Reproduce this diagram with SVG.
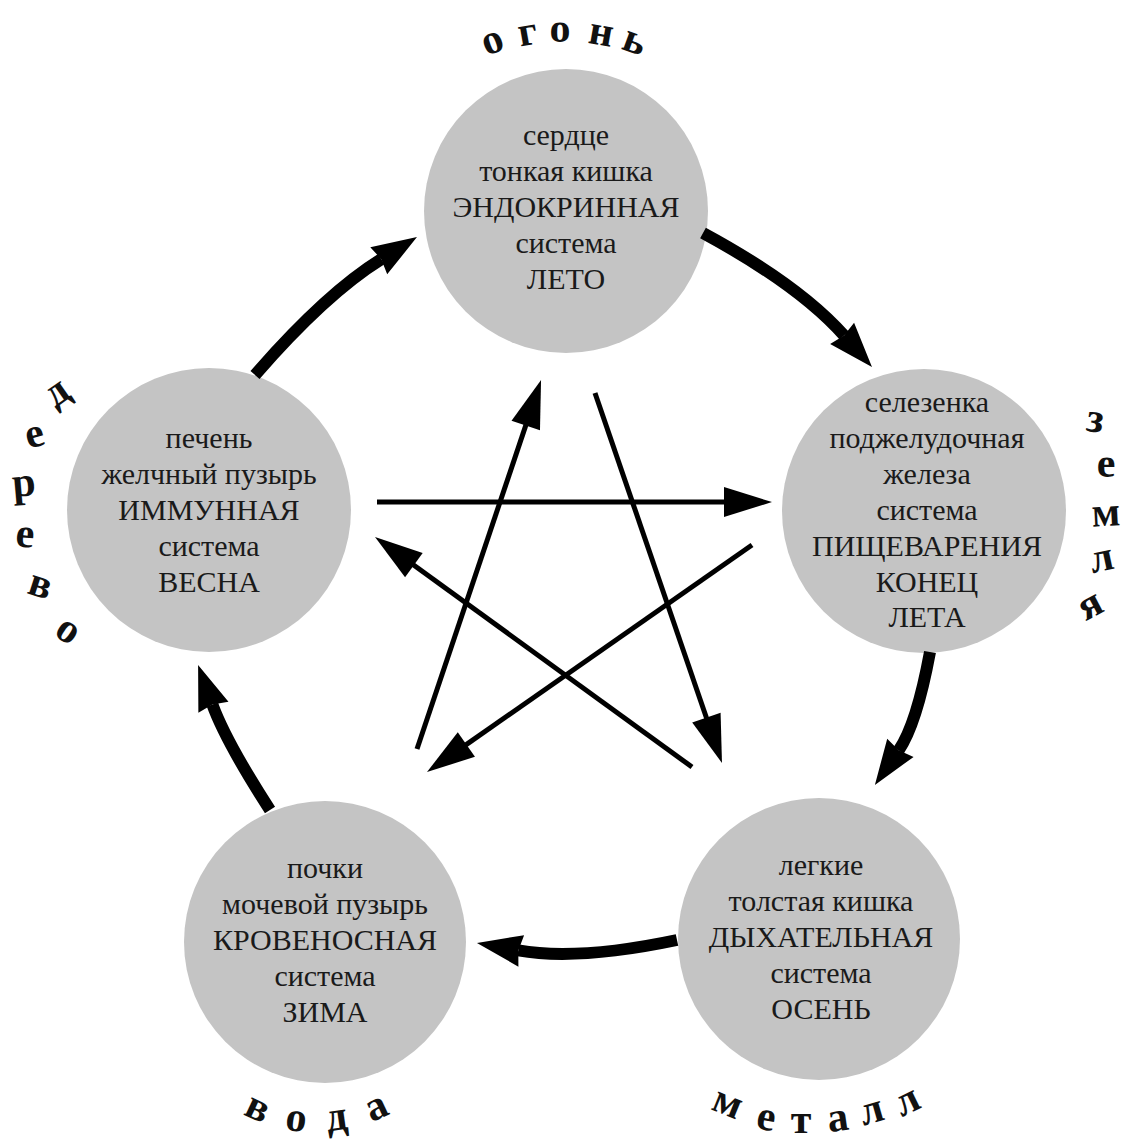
<svg xmlns="http://www.w3.org/2000/svg" width="1125" height="1142" viewBox="0 0 1125 1142">
<style>
.c{fill:#c4c4c4}
.t{font-family:"Liberation Serif","Times New Roman",serif;font-size:30px;fill:#1a1a1a;text-anchor:middle}
.l{font-family:"Liberation Serif","Times New Roman",serif;font-size:42px;font-weight:bold;fill:#111;text-anchor:middle}
.thick{fill:none;stroke:#000;stroke-width:12;marker-end:url(#hb)}
.thin{fill:none;stroke:#000;stroke-width:5;marker-end:url(#hs)}
</style>
<defs>
<marker id="hb" markerUnits="userSpaceOnUse" markerWidth="60" markerHeight="40" viewBox="0 -20 60 40" refX="3" refY="0" orient="auto" overflow="visible">
<path d="M0,-16 L45,0 L0,16 L3,0 z" fill="#000"/>
</marker>
<marker id="hs" markerUnits="userSpaceOnUse" markerWidth="60" markerHeight="40" viewBox="0 -20 60 40" refX="8" refY="0" orient="auto" overflow="visible">
<path d="M0,-15 L48,0 L0,15 z" fill="#000"/>
</marker>
</defs>
<rect width="1125" height="1142" fill="#fff"/>

<g id="node-fire">
<circle class="c" cx="566" cy="211" r="142"/>
<text class="t" x="566" y="145">сердце</text>
<text class="t" x="566" y="181">тонкая кишка</text>
<text class="t" x="566" y="217">ЭНДОКРИННАЯ</text>
<text class="t" x="566" y="253">система</text>
<text class="t" x="566" y="289">ЛЕТО</text>
</g>
<g id="node-wood">
<circle class="c" cx="209" cy="510" r="142"/>
<text class="t" x="209" y="448">печень</text>
<text class="t" x="209" y="484">желчный пузырь</text>
<text class="t" x="209" y="520">ИММУННАЯ</text>
<text class="t" x="209" y="556">система</text>
<text class="t" x="209" y="592">ВЕСНА</text>
</g>
<g id="node-earth">
<circle class="c" cx="924" cy="511" r="142"/>
<text class="t" x="927" y="412">селезенка</text>
<text class="t" x="927" y="448">поджелудочная</text>
<text class="t" x="927" y="484">железа</text>
<text class="t" x="927" y="520">система</text>
<text class="t" x="927" y="556">ПИЩЕВАРЕНИЯ</text>
<text class="t" x="927" y="592">КОНЕЦ</text>
<text class="t" x="927" y="627">ЛЕТА</text>
</g>
<g id="node-water">
<circle class="c" cx="325" cy="942" r="141"/>
<text class="t" x="325" y="878">почки</text>
<text class="t" x="325" y="914">мочевой пузырь</text>
<text class="t" x="325" y="950">КРОВЕНОСНАЯ</text>
<text class="t" x="325" y="986">система</text>
<text class="t" x="325" y="1022">ЗИМА</text>
</g>
<g id="node-metal">
<circle class="c" cx="819" cy="939" r="141"/>
<text class="t" x="821" y="875">легкие</text>
<text class="t" x="821" y="911">толстая кишка</text>
<text class="t" x="821" y="947">ДЫХАТЕЛЬНАЯ</text>
<text class="t" x="821" y="983">система</text>
<text class="t" x="821" y="1019">ОСЕНЬ</text>
</g>

<g id="connectors">
<path class="thick" d="M255,375 Q325.6,293.8 381.3,259.2"/>
<path class="thick" d="M703,233 Q799.3,285.1 844.1,335.6"/>
<path class="thick" d="M930,652 Q916.6,724.3 898.7,750.3"/>
<path class="thick" d="M677,940 Q577,961 518.3,950.4"/>
<path class="thick" d="M270,810 Q225.8,741.5 212.4,704.5"/>
<path class="thin" d="M377,502 L732,502"/>
<path class="thin" d="M752,545 L459.8,749.1"/>
<path class="thin" d="M692,767 L407.4,560.5"/>
<path class="thin" d="M417,749 L528.3,417.9"/>
<path class="thin" d="M595,393 L709,725.2"/>
</g>

<g id="labels">
<text class="l" transform="translate(493,43) rotate(-20)" y="10">о</text>
<text class="l" transform="translate(528,35) rotate(-10)" y="10">г</text>
<text class="l" transform="translate(560,32)" y="10">о</text>
<text class="l" transform="translate(601,35) rotate(10)" y="10">н</text>
<text class="l" transform="translate(634,43) rotate(20)" y="10">ь</text>

<text class="l" transform="translate(58,394) rotate(-35)" y="10">д</text>
<text class="l" transform="translate(35,437) rotate(-15)" y="10">е</text>
<text class="l" transform="translate(24,486) rotate(-5)" y="10">р</text>
<text class="l" transform="translate(25,537) rotate(5)" y="10">е</text>
<text class="l" transform="translate(40,587) rotate(18)" y="10">в</text>
<text class="l" transform="translate(67,632) rotate(35)" y="10">о</text>

<text class="l" transform="translate(1095,422) rotate(8)" y="10">з</text>
<text class="l" transform="translate(1106,467)" y="10">е</text>
<text class="l" transform="translate(1106,516) rotate(-3)" y="10">м</text>
<text class="l" transform="translate(1102,561) rotate(-12)" y="10">л</text>
<text class="l" transform="translate(1091,607) rotate(-28)" y="10">я</text>

<text class="l" transform="translate(257,1110) rotate(25)" y="10">в</text>
<text class="l" transform="translate(296,1121) rotate(8)" y="10">о</text>
<text class="l" transform="translate(337,1120) rotate(-8)" y="10">д</text>
<text class="l" transform="translate(377,1109) rotate(-25)" y="10">а</text>

<text class="l" transform="translate(727,1105) rotate(22)" y="10">м</text>
<text class="l" transform="translate(766,1120) rotate(10)" y="10">е</text>
<text class="l" transform="translate(801,1123)" y="10">т</text>
<text class="l" transform="translate(838,1121) rotate(-8)" y="10">а</text>
<text class="l" transform="translate(872,1113) rotate(-16)" y="10">л</text>
<text class="l" transform="translate(908,1103) rotate(-26)" y="10">л</text>
</g>
</svg>
